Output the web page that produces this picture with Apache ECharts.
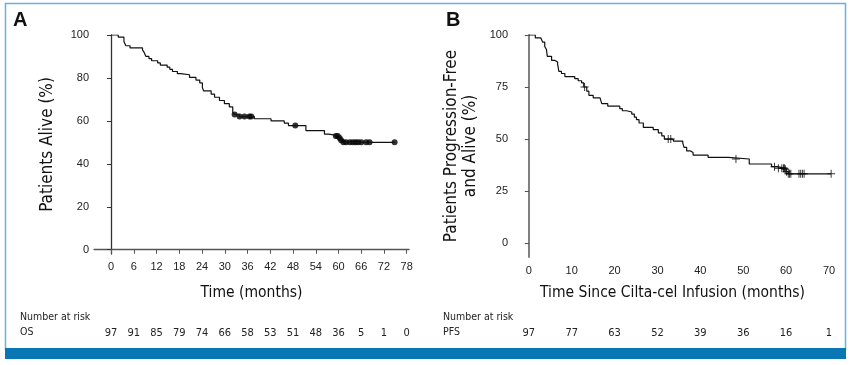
<!DOCTYPE html>
<html><head><meta charset="utf-8">
<script src="https://cdn.jsdelivr.net/npm/echarts@6/dist/echarts.min.js"></script>
<style>html,body{margin:0;padding:0;background:#fff}#c{width:852px;height:365px}</style>
</head><body><div id="c"></div>
<script>
// ---- data ----
const osTicks = [0,6,12,18,24,30,36,42,48,54,60,66,72,78];
const osRisk = [97,91,85,79,74,66,58,53,51,48,36,5,1,0];
const pfsTicks = [0,10,20,30,40,50,60,70];
const pfsRisk = [97,77,63,52,39,36,16,1];
const yTicksA = [0,20,40,60,80,100];
const yTicksB = [0,25,50,75,100];

const osTime = [0,1.9,3.4,3.9,5.0,8.3,8.7,9.2,10.0,10.7,12.3,13.0,14.8,15.5,16.2,17.5,18.4,20.7,22.4,23.4,24.1,24.4,26.4,27.3,28.6,29.9,31.2,32.1,32.5,33.8,37.8,42.2,45.7,46.8,51.4,56.3,57.4,60.3,60.7,61.2,74.8];
const osSurv = [100,99,97,95,94,93,92,90,89,88,87,86,85,84,83,82,81.5,80.3,79,77.7,75.5,74,72.5,71,69.5,68,66.5,64,63,62,61,60,59,57.8,55.5,53.8,53,52,51,50,50];
const osCensorTime = [32.6,33.9,35.2,36.5,37.0,48.6,59.3,59.8,60.3,60.7,61.3,62.0,63.0,63.8,64.5,65.2,66.0,67.3,68.2,74.8];
const osCensorSurv = [63,62,62,62,62,57.8,53,53,52,51,50,50,50,50,50,50,50,50,50,50];

const pfsTime = [0,1.5,2.8,3.2,3.7,4.1,4.3,5.3,6.1,6.7,7.0,7.6,8.4,10.7,11.5,12.3,12.8,13.5,14.0,15.0,16.6,17.0,18.4,21.2,21.8,22.8,24.0,24.6,25.1,25.7,26.7,29.0,30.2,31.0,31.6,33.7,35.9,36.2,36.8,37.7,38.3,41.8,46.5,51.4,56.6,57.8,60.0,60.5,70.5];
const pfsSurv = [100,98.6,97.8,96.6,94.5,93,89.7,87.8,87,86,82.5,81.5,80,79,78,77,75,73,71,69.8,69,67,65.8,64.6,63.6,63,62,60.5,59.3,57.7,55.6,54.5,53,51.5,50,49,48,46,44.3,43.5,42.3,41.2,40.4,38,36.7,36,34.3,33.3,33.3];
const pfsCensorTime = [13.0,32.5,33.1,48.3,57.3,58.2,59.0,59.4,59.6,59.8,60.1,60.5,60.8,61.1,63.0,63.4,63.8,64.2,70.5];
const pfsCensorSurv = [75,50,50,40.4,36.7,36,36,36,36,35.5,34.3,33.3,33.3,33.3,33.3,33.3,33.3,33.3,33.3];

// ---- build ----
const zip = (a,b) => a.map((v,i)=>[v,b[i]]);
const narrow = '"Liberation Sans Narrow","Arial Narrow","DejaVu Sans Condensed",sans-serif';
const sans = '"Liberation Sans",Arial,Helvetica,sans-serif';
const plus = 'path://M4.4,0h1.2v10h-1.2z M0,4.4h10v1.2h-10z';

const chart = echarts.init(document.getElementById('c'), null, {renderer:'canvas'});
const tickLbl = {color:'#222', fontSize:11, fontFamily:sans};
chart.setOption({
  animation:false,
  backgroundColor:'#fff',
  grid:[
    {left:94, top:35, width:315, height:219},
    {left:513, top:35, width:319, height:222}
  ],
  xAxis:[
    {type:'value', gridIndex:0, min:-4.5, max:78.6,
     axisLine:{show:true, lineStyle:{color:'#555', width:1.3}},
     axisTick:{show:true, inside:false, length:4, customValues:osTicks, lineStyle:{color:'#555'}},
     axisLabel:{customValues:osTicks, margin:7, ...tickLbl},
     splitLine:{show:false},
     name:'Time (months)', nameLocation:'middle', nameGap:31,
     nameTextStyle:{fontSize:15.5, fontFamily:narrow, color:'#111'}},
    {type:'value', gridIndex:0, min:-4.5, max:78.6, position:'bottom', offset:66,
     axisLine:{show:false}, axisTick:{show:false}, splitLine:{show:false},
     axisLabel:{customValues:osTicks, margin:8, fontSize:11, fontFamily:narrow, color:'#222',
       formatter:(v)=>{const i=osTicks.indexOf(v); return i<0?'':String(osRisk[i]);}}},
    {type:'value', gridIndex:1, min:-3.7, max:70.7,
     axisLine:{show:false},
     axisTick:{show:false},
     axisLabel:{customValues:pfsTicks, margin:8, ...tickLbl},
     splitLine:{show:false},
     name:'Time Since Cilta-cel Infusion (months)', nameLocation:'middle', nameGap:28,
     nameTextStyle:{fontSize:15.5, fontFamily:narrow, color:'#111'}},
    {type:'value', gridIndex:1, min:-3.7, max:70.7, position:'bottom', offset:63,
     axisLine:{show:false}, axisTick:{show:false}, splitLine:{show:false},
     axisLabel:{customValues:pfsTicks, margin:8, fontSize:11, fontFamily:narrow, color:'#222',
       formatter:(v)=>{const i=pfsTicks.indexOf(v); return i<0?'':String(pfsRisk[i]);}}}
  ],
  yAxis:[
    {type:'value', gridIndex:0, min:-2, max:100,
     axisLine:{show:true, lineStyle:{color:'#333', width:1.3}},
     axisTick:{show:true, length:4, customValues:yTicksA, lineStyle:{color:'#333'}},
     axisLabel:{customValues:yTicksA, margin:5, ...tickLbl},
     splitLine:{show:false},
     name:'Patients Alive (%)', nameLocation:'middle', nameGap:38, nameRotate:90,
     nameTextStyle:{fontSize:17, fontFamily:narrow, color:'#111'}},
    {type:'value', gridIndex:1, min:-6.7, max:100,
     axisLine:{show:true, lineStyle:{color:'#808080', width:2}},
     axisTick:{show:true, length:4, customValues:yTicksB, lineStyle:{color:'#555'}},
     axisLabel:{customValues:yTicksB, margin:5, ...tickLbl},
     splitLine:{show:false},
     name:'Patients Progression-Free\nand Alive (%)', nameLocation:'middle', nameGap:33, nameRotate:90,
     nameTextStyle:{fontSize:17, fontFamily:narrow, color:'#111', lineHeight:19}}
  ],
  series:[
    {type:'line', xAxisIndex:0, yAxisIndex:0, data:zip(osTime,osSurv), step:'end', showSymbol:false,
     lineStyle:{color:'#111', width:1.2}, silent:true},
    {type:'scatter', xAxisIndex:0, yAxisIndex:0, data:zip(osCensorTime,osCensorSurv), symbol:'circle', symbolSize:6,
     itemStyle:{color:'#000'}, silent:true},
    {type:'line', xAxisIndex:2, yAxisIndex:1, data:zip(pfsTime,pfsSurv), step:'end', showSymbol:false,
     lineStyle:{color:'#111', width:1.2}, silent:true},
    {type:'scatter', xAxisIndex:2, yAxisIndex:1, data:zip(pfsCensorTime,pfsCensorSurv), symbol:plus, symbolSize:8,
     itemStyle:{color:'#000'}, silent:true}
  ],
  graphic:[
    {type:'rect', shape:{x:5.5, y:3.5, width:840, height:346}, style:{fill:'none', stroke:'#66b3de', lineWidth:1.5}, silent:true},
    {type:'rect', shape:{x:5, y:348, width:841, height:11}, style:{fill:'#0a77b5'}, silent:true},
    {type:'text', left:13, top:10, style:{text:'A', fontSize:20, fontWeight:'bold', fontFamily:sans, fill:'#111'}},
    {type:'text', left:446, top:10, style:{text:'B', fontSize:20, fontWeight:'bold', fontFamily:sans, fill:'#111'}},
    {type:'text', left:20, top:312, style:{text:'Number at risk', fontSize:10.5, fontFamily:narrow, fill:'#222'}},
    {type:'text', left:20, top:327, style:{text:'OS', fontSize:10.5, fontFamily:narrow, fill:'#222'}},
    {type:'text', left:443, top:312, style:{text:'Number at risk', fontSize:10.5, fontFamily:narrow, fill:'#222'}},
    {type:'text', left:443, top:327, style:{text:'PFS', fontSize:10.5, fontFamily:narrow, fill:'#222'}}
  ]
});
</script></body></html>
